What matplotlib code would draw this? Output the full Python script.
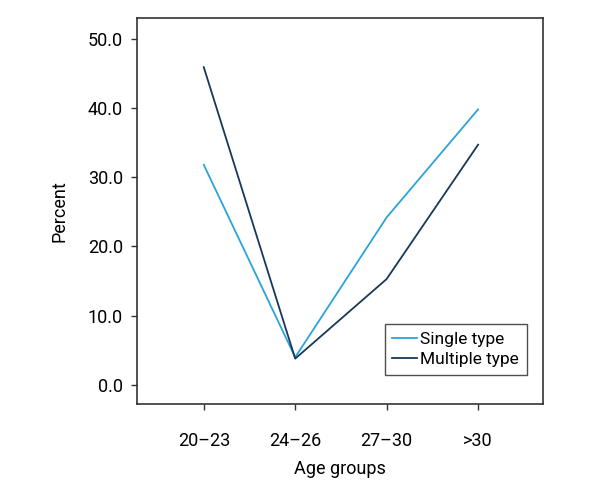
import matplotlib
matplotlib.use('Agg')
import matplotlib.pyplot as plt

age_groups = ['20\u201323', '24\u201326', '27\u201330', '>30']
single_type = [31.8, 4.0, 24.2, 39.8]
multiple_type = [45.9, 3.8, 15.3, 34.7]
y_ticks = [0, 10, 20, 30, 40, 50]

plt.rcParams['font.family'] = ['Roboto', 'DejaVu Sans']

fig = plt.figure(figsize=(6, 5), dpi=100)
ax = fig.add_axes([137/600, 1 - 404/500, (543-137)/600, (404-18)/500])

x = range(len(age_groups))
ax.plot(x, single_type, color='#2ba3da', lw=1.3, label='Single type')
ax.plot(x, multiple_type, color='#17385a', lw=1.3, label='Multiple type')

ax.set_xlim(-0.73, 3.71)
ax.set_ylim(-2.75, 53.0)
ax.set_xticks(list(x))
ax.set_xticklabels(age_groups)
ax.set_yticks(y_ticks)
ax.set_yticklabels([f'{v:.1f}' for v in y_ticks])
ax.tick_params(labelsize=13, length=4, width=1, color='#333333', pad=16)
ax.tick_params(axis='y', pad=6)
for s in ax.spines.values():
    s.set_color('#333333')
    s.set_linewidth(1.2)

ax.set_xlabel('Age groups', fontsize=13, labelpad=7)
ax.set_ylabel('Percent', fontsize=13, labelpad=14)

leg = ax.legend(loc='lower right', bbox_to_anchor=(0.96, 0.075), fontsize=12.5,
                frameon=True, fancybox=False, handlelength=1.4, handletextpad=0.2,
                borderpad=0.45, labelspacing=0.3, borderaxespad=0)
leg.get_frame().set_edgecolor('#222222')
leg.get_frame().set_linewidth(1.0)

fig.savefig('out.png', dpi=100)
